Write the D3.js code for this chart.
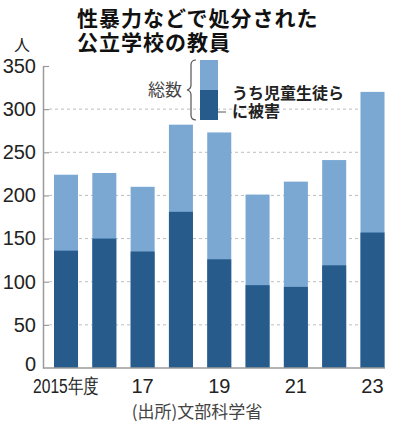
<!DOCTYPE html>
<html>
<head>
<meta charset="utf-8">
<script src="https://cdn.jsdelivr.net/npm/d3@7"></script>
<style>
  body { margin: 0; background: #fff; }
  svg { display: block; }
  .jp { font-family: "Noto Sans CJK JP", "Noto Sans", sans-serif; }
</style>
</head>
<body>
<svg id="chart" width="397" height="423"></svg>
<script>
// data
const years = [2015, 2016, 2017, 2018, 2019, 2020, 2021, 2022, 2023];
const totals = [224, 226, 210, 282, 273, 201, 216, 241, 320];
const victims = [136, 150, 135, 181, 126, 96, 94, 119, 157];
const yTicks = [0, 50, 100, 150, 200, 250, 300, 350];
const xLabels = { 2015: '2015年度', 2017: '17', 2019: '19', 2021: '21', 2023: '23' };

const lightBlue = '#7aa8d3';
const darkBlue = '#265b8c';
const narrow = '"Liberation Sans Narrow", "Liberation Sans", sans-serif';

const svg = d3.select('#chart');

const x = d3.scaleBand()
  .domain(years)
  .range([43, 395.5])
  .paddingInner(0.373)
  .paddingOuter(0.287);

const y = d3.scaleLinear()
  .domain([0, 350])
  .range([368, 66]);

// gridlines
svg.append('g')
  .selectAll('line')
  .data(yTicks.filter(d => d > 0 && d < 350))
  .join('line')
  .attr('x1', 49)
  .attr('x2', 385)
  .attr('y1', d => y(d))
  .attr('y2', d => y(d))
  .attr('stroke', '#bdbdbd')
  .attr('stroke-width', 1)
  .attr('stroke-dasharray', '3,3');

// bars
const bars = svg.append('g');
bars.selectAll('rect.total')
  .data(years)
  .join('rect')
  .attr('class', 'total')
  .attr('x', d => x(d))
  .attr('width', x.bandwidth())
  .attr('y', (d, i) => y(totals[i]))
  .attr('height', (d, i) => y(0) - y(totals[i]))
  .attr('fill', lightBlue);

bars.selectAll('rect.victim')
  .data(years)
  .join('rect')
  .attr('class', 'victim')
  .attr('x', d => x(d))
  .attr('width', x.bandwidth())
  .attr('y', (d, i) => y(victims[i]))
  .attr('height', (d, i) => y(0) - y(victims[i]))
  .attr('fill', darkBlue);

// baseline
svg.append('line')
  .attr('x1', 43)
  .attr('x2', 385)
  .attr('y1', y(0))
  .attr('y2', y(0))
  .attr('stroke', '#9a9a9a')
  .attr('stroke-width', 1.5);

// y axis
const yAxis = svg.append('g')
  .attr('transform', 'translate(43,0)')
  .call(d3.axisLeft(y).tickValues(yTicks).tickSize(-6).tickSizeOuter(0).tickPadding(7));
yAxis.select('.domain').attr('stroke', '#9a9a9a').attr('stroke-width', 1.5);
yAxis.selectAll('.tick line')
  .attr('stroke', '#9a9a9a')
  .attr('stroke-width', 1.2)
  .attr('display', d => d === 0 ? 'none' : null);
yAxis.selectAll('.tick text')
  .attr('fill', '#222')
  .attr('dy', d => d === 0 ? '0.1em' : '0.32em')
  .style('font-size', '20px')
  .style('font-family', narrow);

// x labels
svg.append('g')
  .selectAll('text')
  .data(years.filter(d => xLabels[d]))
  .join('text')
  .attr('x', d => x(d) + x.bandwidth() / 2)
  .attr('y', 393)
  .attr('text-anchor', 'middle')
  .attr('fill', '#222')
  .attr('textLength', d => d === 2015 ? 66 : null)
  .attr('lengthAdjust', 'spacingAndGlyphs')
  .style('font-size', '20px')
  .style('font-family', narrow)
  .text(d => xLabels[d]);

// unit
svg.append('text')
  .attr('class', 'jp')
  .attr('x', 22)
  .attr('y', 51)
  .attr('text-anchor', 'middle')
  .attr('fill', '#222')
  .style('font-size', '16px')
  .text('人');

// title
const title = svg.append('text')
  .attr('class', 'jp')
  .attr('fill', '#111')
  .style('font-size', '21px')
  .style('letter-spacing', '1px')
  .style('font-weight', 'bold');
title.append('tspan').attr('x', 77).attr('y', 26).text('性暴力などで処分された');
title.append('tspan').attr('x', 77).attr('y', 50).text('公立学校の教員');

// legend
const legend = svg.append('g');
legend.append('rect').attr('x', 200).attr('y', 60).attr('width', 18).attr('height', 30).attr('fill', lightBlue);
legend.append('rect').attr('x', 200).attr('y', 90).attr('width', 18).attr('height', 30).attr('fill', darkBlue);
legend.append('path')
  .attr('d', 'M196,60 Q191,60 191,65 L191,85 Q191,89 187,90 Q191,91 191,95 L191,115 Q191,120 196,120')
  .attr('fill', 'none')
  .attr('stroke', '#555')
  .attr('stroke-width', 1.2);
legend.append('line')
  .attr('x1', 218).attr('x2', 226)
  .attr('y1', 112).attr('y2', 112)
  .attr('stroke', '#555')
  .attr('stroke-width', 1);
legend.append('text')
  .attr('class', 'jp')
  .attr('x', 182)
  .attr('y', 96)
  .attr('text-anchor', 'end')
  .attr('fill', '#444')
  .style('font-size', '17px')
  .text('総数');
const legendText = legend.append('text')
  .attr('class', 'jp')
  .attr('fill', '#222')
  .style('font-size', '16px')
  .style('font-weight', 'bold');
legendText.append('tspan').attr('x', 232).attr('y', 99).text('うち児童生徒ら');
legendText.append('tspan').attr('x', 232).attr('y', 117).text('に被害');

// source
svg.append('text')
  .attr('class', 'jp')
  .attr('x', 197)
  .attr('y', 418)
  .attr('text-anchor', 'middle')
  .attr('fill', '#444')
  .style('font-size', '17px')
  .text('(出所)文部科学省');
</script>
</body>
</html>
